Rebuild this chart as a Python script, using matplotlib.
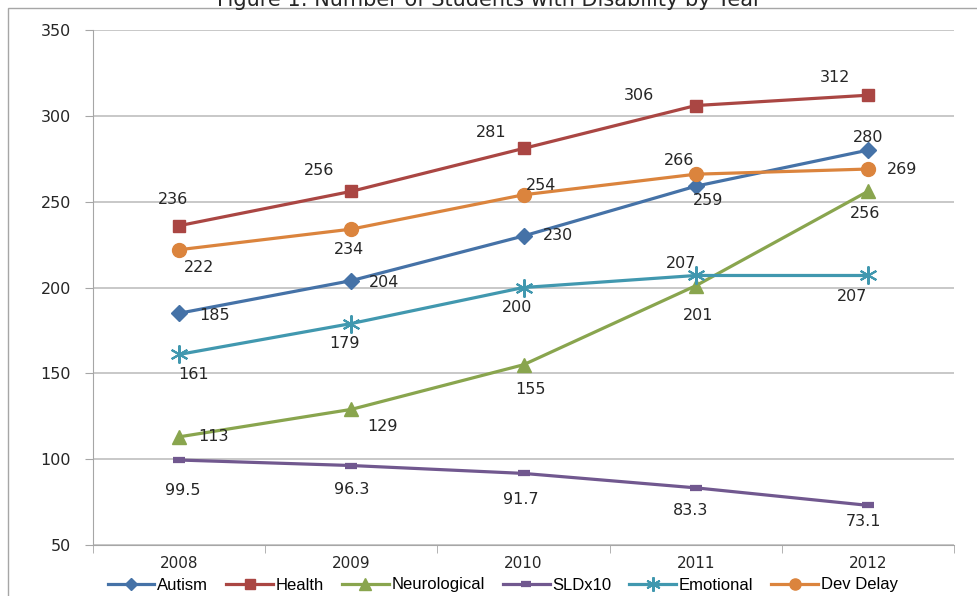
import matplotlib.pyplot as plt
from matplotlib.patches import Rectangle

# --- datos ---
anios = ['2008', '2009', '2010', '2011', '2012']
autism = [185, 204, 230, 259, 280]
health = [236, 256, 281, 306, 312]
neurological = [113, 129, 155, 201, 256]
sld_x10 = [99.5, 96.3, 91.7, 83.3, 73.1]
emotional = [161, 179, 200, 207, 207]
dev_delay = [222, 234, 254, 266, 269]

etiquetas_sld = ['99.5', '96.3', '91.7', '83.3', '73.1']

# desplazamiento de cada etiqueta en pixeles (dx, dy hacia abajo)
desp_autism = [(35, 2), (33, 2), (34, 0), (12, 14), (0, -13)]
desp_health = [(-6, -26), (-32, -21), (-32, -16), (-57, -10), (-33, -18)]
desp_neuro = [(34, 0), (31, 17), (7, 25), (2, 30), (-3, 22)]
desp_sld = [(4, 30), (0, 24), (-3, 26), (-5, 23), (-4, 16)]
desp_emo = [(14, 20), (-7, 20), (-6, 20), (-15, -12), (-16, 21)]
desp_dev = [(20, 18), (-2, 20), (18, -9), (-17, -14), (34, 0)]

# nombre, valores, color, marcador, tamano, grosor borde, desplazamientos, textos
series = [
    ('Autism', autism, '#4572A7', 'D', 8, 1, desp_autism, None),
    ('Health', health, '#AA4643', 's', 9, 1, desp_health, None),
    ('Neurological', neurological, '#89A54E', '^', 10, 1, desp_neuro, None),
    ('SLDx10', sld_x10, '#71588F', '_', 9, 4.5, desp_sld, etiquetas_sld),
    ('Emotional', emotional, '#4198AF', (6, 2, 0), 13, 1.5, desp_emo, None),
    ('Dev Delay', dev_delay, '#DB843D', 'o', 10, 1, desp_dev, None),
]

fig = plt.figure(figsize=(9.78, 5.96), dpi=100)
ax = fig.add_axes([93 / 978, 1 - 545 / 596, (954 - 93) / 978, (545 - 30) / 596])

# marco exterior del grafico
fig.patches.append(Rectangle((8 / 978, -0.1), 1.2, 1.1 - 8 / 596, transform=fig.transFigure,
                             fill=False, edgecolor='#A6A6A6', linewidth=1.0))

x = list(range(len(anios)))
for nombre, valores, color, marcador, tam, mew, desp, textos in series:
    ax.plot(x, valores, color=color, linewidth=2.3, marker=marcador, markersize=tam,
            markeredgewidth=mew, markeredgecolor=color, label=nombre, zorder=3)
    for i, v in enumerate(valores):
        texto = textos[i] if textos else str(v)
        ax.annotate(texto, (x[i], v), xytext=(desp[i][0], -desp[i][1]), textcoords='offset pixels',
                    ha='center', va='center', fontsize=11.5, color='#262626', zorder=4)

ax.set_xlim(-0.5, 4.5)
ax.set_ylim(50, 350)
ax.set_yticks(range(50, 351, 50))
ax.set_xticks(x)
ax.set_xticklabels(anios)
ax.set_xticks([i + 0.5 for i in range(-1, 5)], minor=True)
ax.tick_params(axis='x', which='major', length=0, labelsize=11, pad=8, colors='#262626')
ax.tick_params(axis='x', which='minor', length=6, color='#A6A6A6', direction='out')
ax.tick_params(axis='y', length=6, labelsize=11.5, pad=10, labelcolor='#262626', color='#A6A6A6')
ax.grid(axis='y', color='#BFBFBF', linewidth=1.2)
ax.set_axisbelow(True)
for lado in ['top', 'right']:
    ax.spines[lado].set_visible(False)
ax.spines['left'].set_color('#A6A6A6')
ax.spines['bottom'].set_color('#A6A6A6')

fig.text(0.5, 1.0, 'Figure 1: Number of Students with Disability by Year', ha='center', va='center',
         fontsize=15, color='#262626')

fig.legend(loc='center', bbox_to_anchor=(0.514, 1 - 585 / 596), ncol=6, frameon=False,
           handlelength=2.8, handletextpad=0.15, columnspacing=1.1, markerscale=0.8,
           prop={'family': ['Liberation Sans Narrow', 'Liberation Sans'], 'size': 12})

fig.savefig('out.png', dpi=100)
